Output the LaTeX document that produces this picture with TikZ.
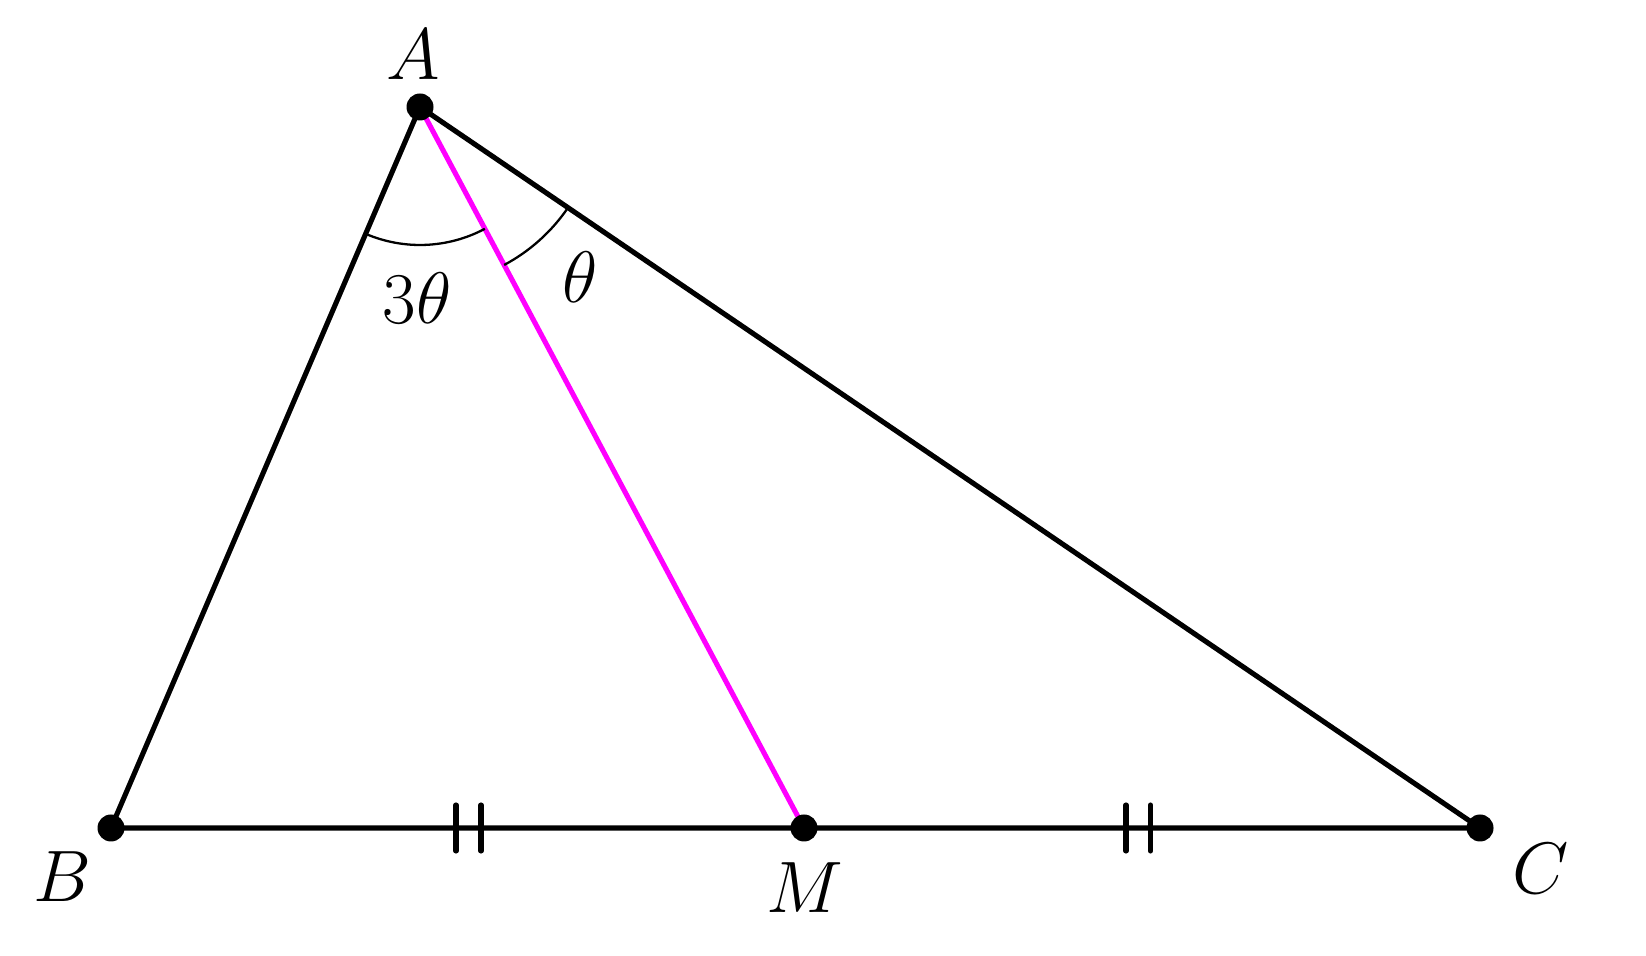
\documentclass[tikz,border=0pt]{standalone}
\usepackage{amsmath,amssymb}
\usetikzlibrary{angles}
\definecolor{median pink}{RGB}{255,0,255}

\begin{document}
\begin{tikzpicture}[thick,line width=1.45pt,
	point node/.style={circle,fill=black,inner sep=0pt,minimum size=0.27cm},
	label node/.style={font=\fontsize{21pt}{25pt}\selectfont,inner sep=0pt},
	angle arc/.style={draw,line width=0.65pt},
	tick mark/.style={line width=1.45pt,line cap=round}]
		\useasboundingbox (0,0) rectangle (16.46,9.56);
		\coordinate (A) at (4.20,8.49);
		\coordinate (B) at (1.11,1.28);
		\coordinate (M) at (8.04,1.28);
		\coordinate (C) at (14.80,1.28);
		\draw (B) -- (A) -- (C) -- cycle;
		\draw[median pink] (A) -- (M);
		\pic[angle arc,angle radius=1.38cm] {angle=B--A--M};
		\pic[angle arc,angle radius=1.79cm] {angle=M--A--C};
		\foreach \x in {4.56,4.81,11.26,11.505}
		\draw[tick mark] (\x,1.05) -- (\x,1.51);
		\node[point node] (pA) at (A) {};
		\node[point node] (pB) at (B) {};
		\node[point node] (pM) at (M) {};
		\node[point node] (pC) at (C) {};
		\node[label node] (lA) at (4.13,9.01) {$A$};
		\node[label node] (lB) at (0.62,0.79) {$B$};
		\node[label node] (lM) at (8.05,0.68) {$M$};
		\node[label node] (lC) at (15.41,0.87) {$C$};
		\node[label node] (l3t) at (4.17,6.58) {$3\theta$};
		\node[label node] (lt) at (5.80,6.79) {$\theta$};
		\end{tikzpicture}
\end{document}
